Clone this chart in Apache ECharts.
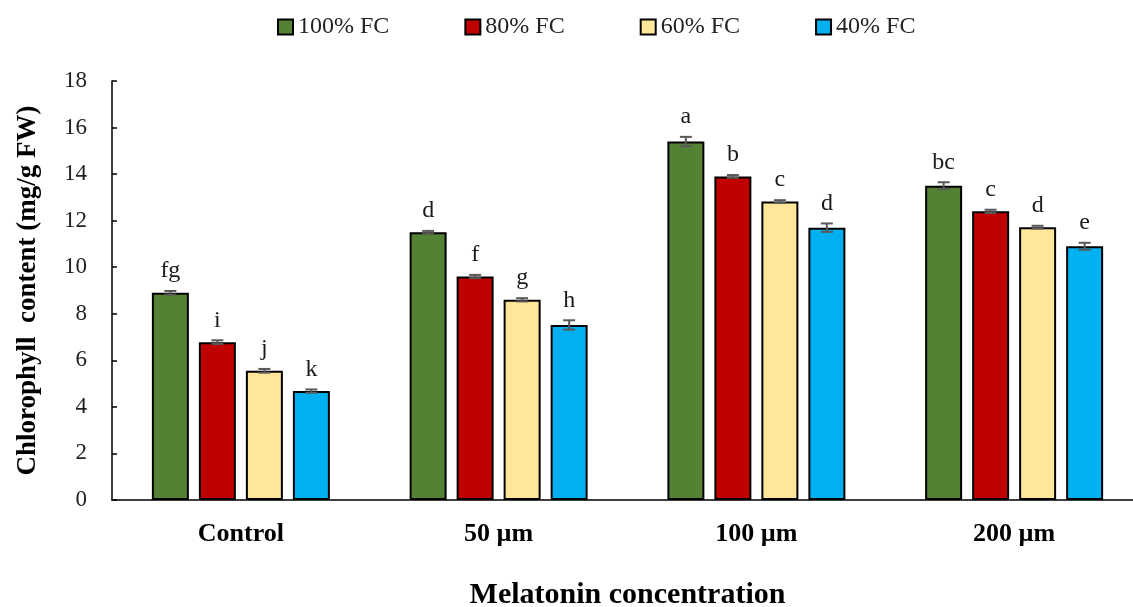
<!DOCTYPE html>
<html>
<head>
<meta charset="utf-8">
<script src="https://cdn.jsdelivr.net/npm/echarts@6/dist/echarts.min.js"></script>
<style>html,body{margin:0;padding:0;background:#fff;overflow:hidden}#c{width:1133px;height:607px}</style>
</head>
<body>
<div id="c"></div>
<script>
var categories = ['Control', '50 µm', '100 µm', '200 µm'];
var seriesNames = ['100% FC', '80% FC', '60% FC', '40% FC'];
var fc100 = [8.9, 11.5, 15.4, 13.5];
var fc80 = [6.78, 9.6, 13.9, 12.4];
var fc60 = [5.55, 8.6, 12.82, 11.72];
var fc40 = [4.68, 7.52, 11.7, 10.9];
var err100 = [0.08, 0.06, 0.2, 0.15];
var err80 = [0.08, 0.07, 0.06, 0.07];
var err60 = [0.08, 0.07, 0.06, 0.06];
var err40 = [0.07, 0.2, 0.18, 0.15];
var let100 = ['fg', 'd', 'a', 'bc'];
var let80 = ['i', 'f', 'b', 'c'];
var let60 = ['j', 'g', 'c', 'd'];
var let40 = ['k', 'h', 'd', 'e'];
var yTicks = [0, 2, 4, 6, 8, 10, 12, 14, 16, 18];

var colors = ['#548235', '#C00000', '#FFE699', '#00B0F0'];
var values = [fc100, fc80, fc60, fc40];
var errs = [err100, err80, err60, err40];
var letters = [let100, let80, let60, let40];
var BAR_W = 37, GAP = 10;
var serif = '"Liberation Serif", "Times New Roman", serif';

var series = [];
values.forEach(function (v, k) {
  series.push({
    name: seriesNames[k], type: 'bar', data: v,
    barWidth: BAR_W, barGap: (GAP / BAR_W * 100) + '%',
    itemStyle: { color: colors[k], borderColor: '#000', borderWidth: 2 },
    z: 2
  });
});
values.forEach(function (v, k) {
  var data = v.map(function (val, i) { return [i, val, errs[k][i]]; });
  series.push({
    type: 'custom', data: data, z: 5, silent: true,
    renderItem: function (params, api) {
      var i = api.value(0), val = api.value(1), e = api.value(2);
      var off = (k - 1.5) * (BAR_W + GAP);
      var top = api.coord([i, val + e]);
      var bot = api.coord([i, val - e]);
      var x = top[0] + off;
      var cap = 6;
      var st = { stroke: '#595959', lineWidth: 2 };
      return {
        type: 'group',
        children: [
          { type: 'line', shape: { x1: x, y1: top[1], x2: x, y2: bot[1] }, style: st },
          { type: 'line', shape: { x1: x - cap, y1: top[1], x2: x + cap, y2: top[1] }, style: st },
          { type: 'line', shape: { x1: x - cap, y1: bot[1], x2: x + cap, y2: bot[1] }, style: st },
          { type: 'text', style: { text: letters[k][i], x: x, y: top[1] - 8, align: 'center', verticalAlign: 'bottom',
              font: '24px ' + serif, fill: '#1a1a1a' } }
        ]
      };
    }
  });
});

var chart = echarts.init(document.getElementById('c'));
chart.setOption({
  animation: false,
  textStyle: { fontFamily: serif },
  legend: {
    data: seriesNames, left: 272, top: 10, icon: 'rect', itemWidth: 15, itemHeight: 15, itemGap: 75,
    textStyle: { fontFamily: serif, fontSize: 24, color: '#222' }
  },
  grid: { left: 112, top: 81, width: 1031, bottom: 107, containLabel: false, outerBoundsMode: 'none' },
  xAxis: {
    type: 'category', data: categories,
    axisLine: { lineStyle: { color: '#000', width: 1.5 } },
    axisTick: { show: false },
    axisLabel: { fontFamily: serif, fontSize: 26, fontWeight: 'bold', color: '#000', margin: 21 },
    name: 'Melatonin concentration', nameLocation: 'middle', nameGap: 80,
    nameTextStyle: { fontFamily: serif, fontSize: 30, fontWeight: 'bold', color: '#000' }
  },
  yAxis: {
    type: 'value', min: yTicks[0], max: yTicks[yTicks.length - 1], interval: yTicks[1] - yTicks[0],
    axisLine: { show: true, lineStyle: { color: '#000', width: 1.5 } },
    axisTick: { show: true, inside: true, length: 5, lineStyle: { color: '#000', width: 1.5 } },
    splitLine: { show: false },
    axisLabel: { fontFamily: serif, fontSize: 23, color: '#222', margin: 25 },
    name: 'Chlorophyll  content (mg/g FW)', nameLocation: 'middle', nameGap: 70,
    nameTextStyle: { fontFamily: serif, fontSize: 27, fontWeight: 'bold', color: '#000' }
  },
  series: series
});
</script>
</body>
</html>
